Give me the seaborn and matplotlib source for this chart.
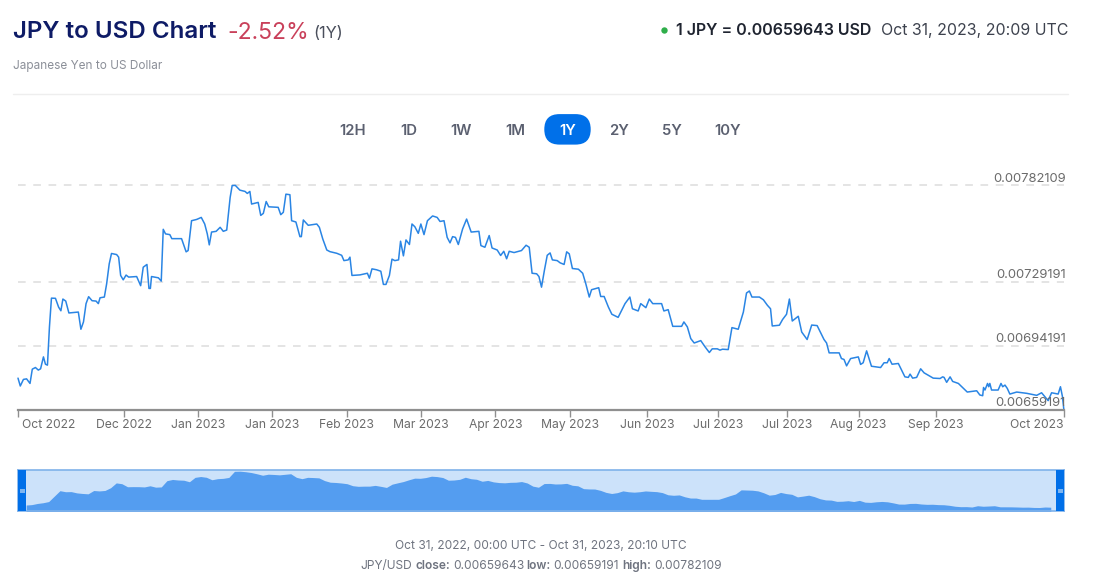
import numpy as np
import pandas as pd
import matplotlib
matplotlib.use("Agg")
import matplotlib.pyplot as plt
import matplotlib.transforms as mtrans
from matplotlib.patches import FancyBboxPatch, Rectangle
from matplotlib.lines import Line2D
import seaborn as sns

# Days since Oct 31, 2022
days = [0,0.8,1.9,3.0,4.2,5.0,6.1,7.1,7.9,8.9,9.6,10.3,11,11.7,13.1,14.2,15,15.7,16.7,17.8,21.1,22,22.9,23.8,24.7,25.9,27.3,28.1,28.7,30.2,31,31.9,32.7,34.5,35.2,35.9,36.8,37.8,38.7,41.5,42.9,43.8,45.1,45.8,46.3,46.7,49.1,50.1,50.8,51.6,53.1,53.8,57.2,58.8,59.5,60.7,62.5,64.1,65.3,66.2,66.9,67.7,69.3,70.7,71.8,73,74.2,74.9,76,77.6,79.4,80.2,81.1,81.7,84,84.9,85.8,86.8,87.7,91,91.9,92.8,93.7,95.1,95.7,97.2,98.6,99.1,99.8,101.5,104.5,105.4,106.6,108,109.1,111.5,113.2,114,115.5,116.1,116.8,119.6,
        122.2,122.9,123.8,125.4,126.9,127.8,128.7,129.9,130.8,131.8,133.1,133.8,134.8,135.7,136.9,137.8,138.8,140,140.9,142,143.2,145,146.6,147.6,149,150.1,151.1,152,153,154,155.5,156.9,158.5,161.2,161.9,163.3,164.8,165.8,167.6,168.8,169.9,170.9,171.8,173.5,176.1,177.7,178.8,179.8,181.4,182.2,183.1,184.1,185.1,186.1,186.9,188.6,189.6,191,191.9,192.8,193.9,196,197.5,198.6,199.8,200.6,203.1,203.8,205,206.5,207.7,209.9,212.3,214,214.9,216.9,217.8,219.6,220.8,222,225.1,225.9,227.4,229,232.1,232.9,234.1,235.3,236.5,238.8,240.3,241.8,242.8,244.6,245.5,
        246.4,248.4,249.7,251.9,253.7,254.8,255.8,256.7,259.3,260.7,262.1,263.2,263.8,266.3,267.4,268.8,269.8,270.8,272.9,274.1,276,277.6,279.5,281.9,282.8,283.7,287.2,288,288.9,289.8,291.2,293.9,294.7,295.6,296.8,298.5,301.7,302.9,304,304.7,305.7,307.9,310.2,311.4,312,312.9,314.3,315.7,316.9,320.1,322.5,323.4,323.9,324.8,326,326.9,328.9,332,335.3,336.4,337.4,337.7,338.2,339.1,339.5,339.9,340.5,342.8,343.8,344.4,345.2,346,346.9,349.3,352.8,356.3,358,360.3,361.5,363.8,364.6,365.3,365.8]
# JPY/USD in units of 0.00001 USD
rate_e5 = [676.6,672.3,675.9,676.2,673.7,681.5,682.4,681.0,681.7,688.2,684.2,683.7,704.6,720.3,720.2,715.4,713.4,719.8,718.7,712.2,712.7,703.3,707.3,717.3,721.1,718.9,718.7,717.3,720.5,720.9,728.1,739,744.7,744.1,742.7,732.7,730.3,732.9,731.8,732.1,727.1,737.2,738.7,725.6,725.6,732.1,731.4,729.6,757.9,755.4,755,752.8,752.8,745.6,746.3,762.6,763.3,764.4,760.8,755.4,749.4,756.4,756.8,759,756.8,757.5,775.3,781.8,781.9,779.3,778.6,777.5,778.6,771.7,772.6,765.5,766.6,773.1,770.2,769.9,765.9,767.2,777.1,776.8,762.6,761.9,753.9,753.9,763,760.1,760.8,759,752.6,746.6,745.7,744.8,743.7,740.8,741.2,742.7,732.7,733,
           733.9,731.2,736.3,735.8,735,727.8,727.8,732.7,741.6,740.8,741.2,751.4,743.4,752.1,749.6,760.8,759.3,755.7,760.8,755,762.6,765.2,764.4,762.2,762.6,753.5,750.5,753.9,753.5,749.6,758.1,763.5,756.4,756.8,749,748.1,754.5,747.7,746.6,743.6,745.9,741.8,745.9,745.2,746.3,749.2,748.1,733.9,733.6,732.1,726.3,735.4,743.7,745,741.2,740.8,739.6,738.7,745.6,744.5,736.5,736.1,733.9,728.1,720.9,724.9,726,721.2,721.2,715.4,711.5,709.8,717.3,720.9,714.5,713.3,717.3,715.1,719.8,717.3,717.3,713.3,714,704.9,704.9,707.3,704.6,698.2,695.8,697.1,693.7,690.6,692.6,692.6,691.9,
           692.4,692.2,704.2,703.3,712.7,723.1,724.2,720.9,720.9,719.4,716.4,714.5,705.1,705.5,708.6,711.5,719.8,707.8,710.4,701.8,697.7,705.6,705.3,697.7,695.8,690.4,690.4,687.3,686.8,683.3,687.3,688.2,684.1,685,691.5,683.1,682.4,685,685,687.3,684.2,684.6,677.3,677,678.8,676.6,677,681.7,679.5,676.6,676.4,677.3,677,674.3,677.3,674.8,673.7,669,669.7,667.4,667,671.5,670.1,673.7,671.9,673.7,670.1,670.1,673.7,671.9,672.8,671,667.9,669,668.3,667.2,668.6,664.3,668.6,667.9,671.9,666.5,659.2]

tick_days = [0,37,63,89,115,141,167,193,220,245,269,294,321,365.8]
tick_labels = ["Oct 2022","Dec 2022","Jan 2023","Jan 2023","Feb 2023","Mar 2023","Apr 2023",
               "May 2023","Jun 2023","Jul 2023","Jul 2023","Aug 2023","Sep 2023","Oct 2023"]
level_values = [0.00782109,0.00729191,0.00694191,0.00659191]
range_labels = ["12H","1D","1W","1M","1Y","2Y","5Y","10Y"]

start = pd.Timestamp("2022-10-31")
frame = pd.DataFrame({"date": start + pd.to_timedelta(days, unit="D"),
                      "rate": np.array(rate_e5) / 1e5})
# the overview strip shows the same series in coarser buckets
coarse = (frame.drop_duplicates("date").set_index("date")["rate"]
          .resample("3h").mean().interpolate().resample("2D").mean().reset_index())

W, H = 1104, 582
sns.set_theme(style="white")
plt.rcParams["font.family"] = ["Inter", "DejaVu Sans"]
fig = plt.figure(figsize=(W/100, H/100), dpi=100, facecolor="white")

def box(x0, y0, x1, y1):
    return [x0/W, 1-y1/H, (x1-x0)/W, (y1-y0)/H]
def fx(x): return x/W
def fy(y): return 1-y/H

LINE = "#2a85e4"
GREY = "#6f7480"

# main chart
ax = fig.add_axes(box(18, 185, 1064, 410))
ax.patch.set_alpha(0)
sns.lineplot(data=frame, x="date", y="rate", ax=ax, color=LINE, lw=1.1, estimator=None, errorbar=None)
ax.set_xlim(start, start + pd.Timedelta(days=365.84))
ax.set_ylim(level_values[-1], level_values[0])
ax.set_xlabel(""); ax.set_ylabel("")
for s in ["top", "left", "right"]:
    ax.spines[s].set_visible(False)
ax.spines["bottom"].set_color("#8f8f8f")
ax.spines["bottom"].set_linewidth(1.6)
ax.set_xticks([start + pd.Timedelta(days=d) for d in tick_days])
ax.set_xticklabels(tick_labels)
ax.tick_params(axis="x", length=5, width=1, color="#8f8f8f", labelsize=8.75, labelcolor="#6b6b6b", pad=1.5, bottom=True)
xl = ax.get_xticklabels()
xl[0].set_ha("left")
xl[0].set_transform(xl[0].get_transform() + mtrans.ScaledTranslation(4/100, 0, fig.dpi_scale_trans))
xl[-1].set_ha("right")
ax.set_yticks(level_values)
ax.set_yticklabels([])
ax.tick_params(axis="y", length=0)
for v in level_values[:-1]:
    ax.axhline(v, color="#dcdcdc", lw=1.1, dashes=(5, 5), zorder=0, clip_on=False)
ax.lines[0].set_clip_on(False)
for v, y in zip(level_values, [178.5, 275.5, 339.5, 403]):
    fig.text(fx(1066), fy(y), f"{v:.8f}", ha="right", va="center", fontsize=9.4, color="#6b6b6b")

# navigator
nav = fig.add_axes(box(18, 470, 1064, 511))
nav.set_facecolor("#cce2fa")
nav.fill_between(coarse["date"], coarse["rate"], level_values[-1]-0.00005, color="#549df0", lw=0)
nav.set_xlim(start - pd.Timedelta(days=2.9), start + pd.Timedelta(days=368.7))
nav.set_ylim(level_values[-1]-0.000035, level_values[0]+0.00002)
nav.set_xticks([]); nav.set_yticks([])
for s in nav.spines.values():
    s.set_color("#7fb2ea"); s.set_linewidth(1.2)
for x0, x1 in [(18, 26), (1056, 1064)]:
    fig.add_artist(Rectangle((fx(x0), fy(511)), (x1-x0)/W, 41/H, transform=fig.transFigure, color="#006fe8", lw=0, zorder=5))
    fig.add_artist(Rectangle((fx(x0+1.5), fy(492.5)), (x1-x0-3)/W, 4/H, transform=fig.transFigure, color="#7db5f0", lw=0, zorder=6))

# header
fig.text(fx(13), fy(32.5), "JPY to USD Chart", fontsize=17.35, fontweight="semibold", color="#0e1b66", va="center")
fig.text(fx(227.5), fy(33), "-2.52%", fontsize=16.6, color="#c9405a", va="center")
fig.text(fx(313), fy(34), "(1Y)", fontsize=11.8, color="#4a4f5c", va="center")
fig.text(fx(13), fy(66), "Japanese Yen to US Dollar", fontsize=8.5, color="#8b8f98", va="center")
fig.add_artist(Line2D([fx(13), fx(1068)], [fy(93.5)]*2, color="#eeeeee", lw=1))
fig.add_artist(Line2D([fx(664)], [fy(29.5)], marker="o", ms=4.6, color="#2fae4a", mew=0))
fig.text(fx(676.5), fy(30.5), "1 JPY = 0.00659643 USD", fontsize=11.5, fontweight="semibold", color="#1f2430", va="center")
fig.text(fx(1068), fy(30.5), "Oct 31, 2023, 20:09 UTC", fontsize=11.45, color="#3d424e", va="center", ha="right")

# range buttons
bx = fig.add_axes([0, 0, 1, 1], zorder=-1)
bx.set_xlim(0, W); bx.set_ylim(H, 0); bx.axis("off")
bx.add_patch(FancyBboxPatch((559.5, 129.3), 16, 0.1, boxstyle="round,pad=15.2,rounding_size=15.2",
                            fc="#0070e9", ec="none"))
for lab, x in zip(range_labels, [353, 408.5, 461, 515.5, 567.5, 619, 672, 728]):
    fig.text(fx(x), fy(131), lab, ha="center", va="center", fontsize=10.7, fontweight="semibold",
             color="white" if lab == "1Y" else "#5b6070")

# footer
fig.text(fx(540.5), fy(549), "Oct 31, 2022, 00:00 UTC - Oct 31, 2023, 20:10 UTC", ha="center", va="baseline", fontsize=8.6, color=GREY)
parts = [(360.7, "JPY/USD", "normal"), (416, "close:", "semibold"), (453, "0.00659643", "normal"),
         (526, "low:", "semibold"), (553.3, "0.00659191", "normal"), (622.7, "high:", "semibold"), (654.7, "0.00782109", "normal")]
for x, t, w in parts:
    fig.text(fx(x), fy(569), t, fontsize=8.6, fontweight=w, color=GREY, va="baseline")

fig.savefig("out.png", dpi=100)
